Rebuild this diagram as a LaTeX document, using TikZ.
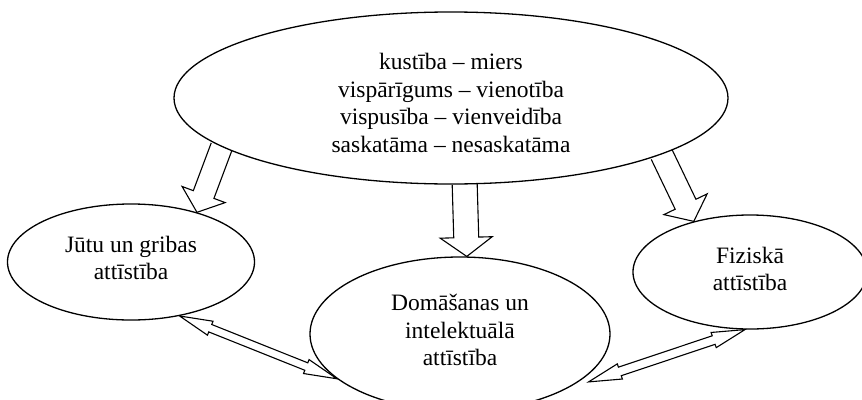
\documentclass[tikz,border=0pt]{standalone}
\usepackage{fontspec}
\setmainfont{Liberation Serif}
\usetikzlibrary{calc,shapes.geometric}

% Hollow block arrow, open at its start:
% #1 start, #2 tip, #3 shaft half-width, #4 head half-width, #5 head length
\newcommand{\blockarrow}[5]{%
  \coordinate (ba-s) at #1;
  \coordinate (ba-e) at #2;
  \coordinate (ba-c) at ($(ba-e)!#5!(ba-s)$);
  \draw[arrowline]
    ($(ba-s)!#3!90:(ba-e)$) -- ($(ba-c)!#3!90:(ba-e)$) --
    ($(ba-c)!#4!90:(ba-e)$) -- (ba-e) --
    ($(ba-c)!#4!-90:(ba-e)$) -- ($(ba-c)!#3!-90:(ba-e)$) --
    ($(ba-s)!#3!-90:(ba-e)$);
}

% Hollow double-headed block arrow:
% #1 first tip, #2 second tip, #3 shaft half-width, #4 head half-width, #5 head length
\newcommand{\dblblockarrow}[5]{%
  \coordinate (da-s) at #1;
  \coordinate (da-e) at #2;
  \coordinate (da-c1) at ($(da-s)!#5!(da-e)$);
  \coordinate (da-c2) at ($(da-e)!#5!(da-s)$);
  \draw[arrowline]
    (da-s) -- ($(da-c1)!#4!90:(da-e)$) -- ($(da-c1)!#3!90:(da-e)$) --
    ($(da-c2)!#3!90:(da-e)$) -- ($(da-c2)!#4!90:(da-e)$) -- (da-e) --
    ($(da-c2)!#4!-90:(da-e)$) -- ($(da-c2)!#3!-90:(da-e)$) --
    ($(da-c1)!#3!-90:(da-e)$) -- ($(da-c1)!#4!-90:(da-e)$) -- cycle;
}

\begin{document}
\begin{tikzpicture}[x=1pt,y=-1pt,
  bubble/.style={ellipse, draw=black, line width=1.3pt, inner sep=0pt},
  lbl/.style={align=center, inner sep=0pt, font=\fontsize{23.5}{27.7}\selectfont},
  arrowline/.style={draw=black, line width=1.1pt, line join=miter}
]
\useasboundingbox (0,0) rectangle (862,399);

% ellipses
\node[bubble, minimum width=554pt, minimum height=172pt] (top) at (451,98) {};
\node[bubble, minimum width=247pt, minimum height=116pt] (left) at (131,262) {};
\node[bubble, minimum width=300pt, minimum height=154pt] (mid) at (460,334) {};
\node[bubble, minimum width=234pt, minimum height=114pt] (fiz) at (750,272) {};

% their texts
\node[lbl] (toptext) at ([yshift=-5pt]top.center)
  {kustība – miers\\vispārīgums – vienotība\\vispusība – vienveidība\\saskatāma – nesaskatāma};
\node[lbl] (lefttext) at ([yshift=4pt]left.center) {Jūtu un gribas\\attīstība};
\node[lbl] (midtext) at ([yshift=4pt]mid.center) {Domāšanas un\\intelektuālā\\attīstība};
\node[lbl] (fiztext) at ([yshift=3pt]fiz.center) {Fiziskā\\attīstība};

% arrows from the top ellipse
\blockarrow{(top.192.5)}{(left.37.9)}{11pt}{23pt}{19pt}
\blockarrow{(top.279.6)}{(mid.85.5)}{12.5pt}{26pt}{19pt}
\blockarrow{(top.345.3)}{(fiz.138.7)}{11.5pt}{24pt}{19pt}

% two-way arrows between the lower ellipses
\dblblockarrow{(left.312.8)}{(mid.200)}{4pt}{7.5pt}{33pt}
\dblblockarrow{($(mid.338)+(10,0)$)}{(fiz.265)}{4.5pt}{8pt}{33pt}
\end{tikzpicture}
\end{document}
